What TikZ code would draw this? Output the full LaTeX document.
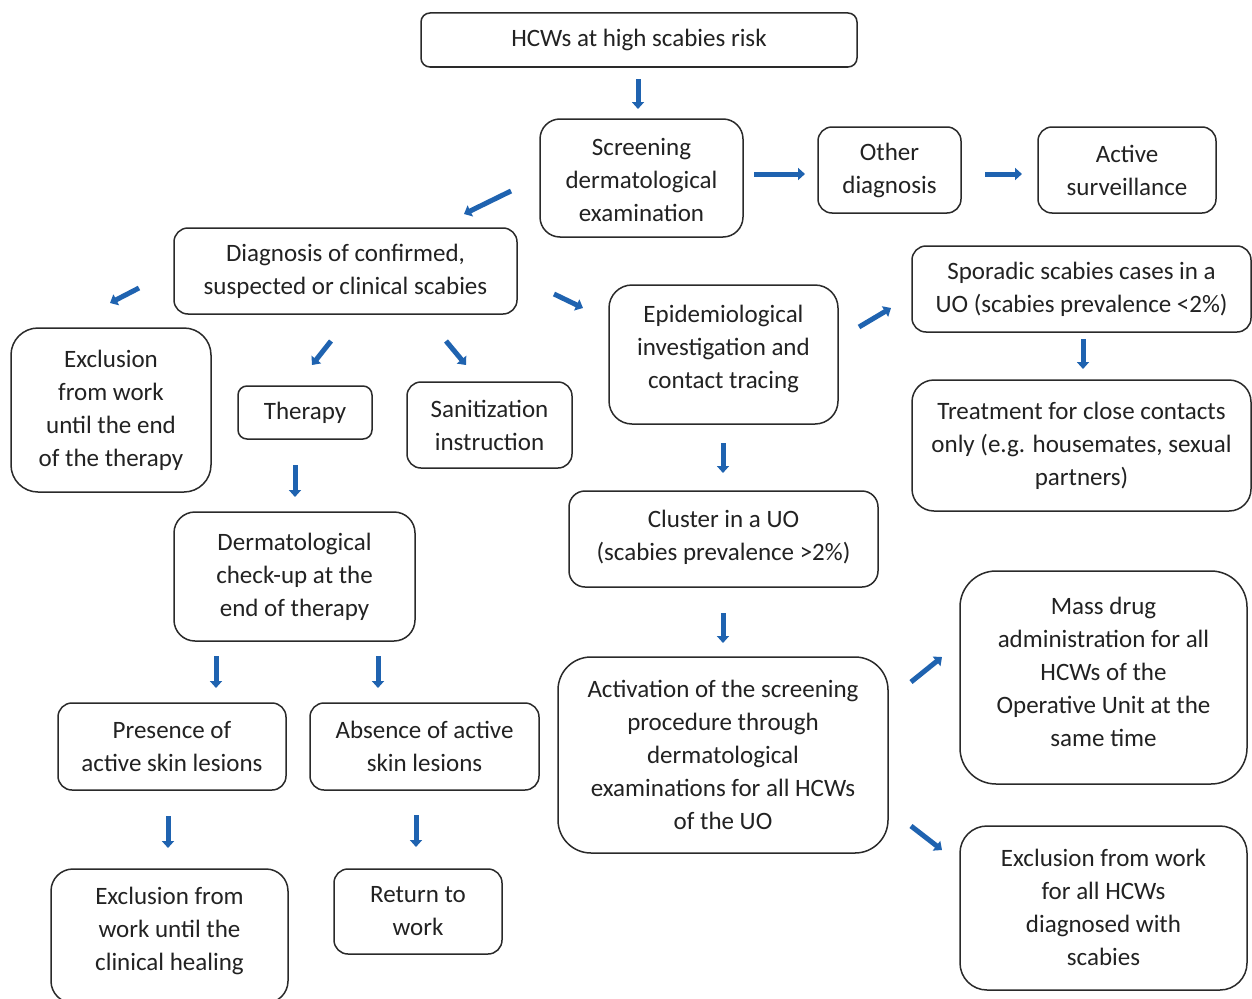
\documentclass[tikz,border=0pt]{standalone}
\usepackage{fontspec}
\setmainfont{Carlito}
\usetikzlibrary{arrows.meta}
\definecolor{arrblue}{HTML}{1F63B0}
\definecolor{boxline}{HTML}{2A2A2A}
\definecolor{txtcol}{HTML}{222222}
\tikzset{
  box/.style={draw=boxline, line width=1.5pt, align=center, inner sep=0pt, text=txtcol,
    font=\fontsize{25pt}{33pt}\selectfont},
  txt/.style={align=center, inner sep=0pt, text=txtcol, font=\fontsize{25pt}{33pt}\selectfont},
  arr/.style={draw=arrblue, line width=5pt, -{Triangle[width=12pt,length=7pt]}},
}
\begin{document}
\begin{tikzpicture}[x=1pt,y=-1pt]
\useasboundingbox (0,0) rectangle (1252,998);
\fill[white] (0,0) rectangle (1252,998);

% boxes
\node[box, minimum width=436pt, minimum height=54pt, rounded corners=9pt] (hcw) at (639,40) {HCWs at high scabies risk};
\node[box, minimum width=203pt, minimum height=118pt, rounded corners=20pt] (scr) at (641.5,178) {};
\node[txt] (scrt) at (641.5,180) {Screening\\dermatological\\examination};
\node[box, minimum width=143pt, minimum height=86pt, rounded corners=14pt] (oth) at (889.5,170) {Other\\diagnosis};
\node[box, minimum width=178pt, minimum height=86pt, rounded corners=14pt] (act) at (1127,170) {Active\\surveillance};
\node[box, minimum width=343pt, minimum height=86pt, rounded corners=14pt] (dia) at (345.5,271) {Diagnosis of confirmed,\\suspected or clinical scabies};
\node[box, minimum width=200pt, minimum height=164pt, rounded corners=27pt] (exc) at (111,410) {Exclusion\\from work\\until the end\\of the therapy};
\node[box, minimum width=134pt, minimum height=53pt, rounded corners=9pt] (the) at (305,412.5) {Therapy};
\node[box, minimum width=165pt, minimum height=86pt, rounded corners=14pt] (san) at (489.5,425) {Sanitization\\instruction};
\node[box, minimum width=229pt, minimum height=139pt, rounded corners=23pt] (epi) at (723.5,354.5) {};
\node[txt] (epit) at (723.5,349) {Epidemiological\\investigation and\\contact tracing};
\node[box, minimum width=339pt, minimum height=86pt, rounded corners=14pt] (spo) at (1081.5,289) {Sporadic scabies cases in a\\UO (scabies prevalence <2\%)};
\node[box, minimum width=339pt, minimum height=131pt, rounded corners=22pt] (tre) at (1081.5,445.5) {Treatment for close contacts\\only (e.g. housemates, sexual\\partners)};
\node[box, minimum width=241pt, minimum height=129pt, rounded corners=21pt] (der) at (294.5,576.5) {Dermatological\\check-up at the\\end of therapy};
\node[box, minimum width=309pt, minimum height=96pt, rounded corners=16pt] (clu) at (723.5,539) {};
\node[txt] (clut) at (723.5,537) {Cluster in a UO\\(scabies prevalence >2\%)};
\node[box, minimum width=228pt, minimum height=87pt, rounded corners=14pt] (pre) at (172,746.5) {Presence of\\active skin lesions};
\node[box, minimum width=229pt, minimum height=87pt, rounded corners=14pt] (abs) at (424.5,746.5) {Absence of active\\skin lesions};
\node[box, minimum width=330pt, minimum height=196pt, rounded corners=33pt] (acv) at (723,755) {Activation of the screening\\procedure through\\dermatological\\examinations for all HCWs\\of the UO};
\node[box, minimum width=287pt, minimum height=213pt, rounded corners=36pt] (mas) at (1103.5,677.5) {};
\node[txt] (mast) at (1103.5,672) {Mass drug\\administration for all\\HCWs of the\\Operative Unit at the\\same time};
\node[box, minimum width=287pt, minimum height=164pt, rounded corners=27pt] (exa) at (1103.5,908) {};
\node[txt] (exat) at (1103.5,907) {Exclusion from work\\for all HCWs\\diagnosed with\\scabies};
\node[box, minimum width=237pt, minimum height=134pt, rounded corners=22pt] (exh) at (169.5,936) {};
\node[txt] (exht) at (169.5,931) {Exclusion from\\work until the\\clinical healing};
\node[box, minimum width=168pt, minimum height=85pt, rounded corners=14pt] (ret) at (418,911.5) {Return to\\work};

% arrows (free-standing)
\coordinate (a1s) at (638,79);   \coordinate (a1e) at (638,109);
\coordinate (a2s) at (511,191);  \coordinate (a2e) at (464,214);
\coordinate (a3s) at (754,174);  \coordinate (a3e) at (805,174);
\coordinate (a4s) at (985,174);  \coordinate (a4e) at (1022,174);
\coordinate (a5s) at (139,288);  \coordinate (a5e) at (110,303);
\coordinate (a6s) at (331,341);  \coordinate (a6e) at (312,365);
\coordinate (a7s) at (446,341);  \coordinate (a7e) at (466,365);
\coordinate (a8s) at (554,294);  \coordinate (a8e) at (583,308);
\coordinate (a9s) at (859,327);  \coordinate (a9e) at (891,308);
\coordinate (a10s) at (1083,339); \coordinate (a10e) at (1083,369);
\coordinate (a11s) at (723,443); \coordinate (a11e) at (723,473);
\coordinate (a12s) at (295,465); \coordinate (a12e) at (295,497);
\coordinate (a13s) at (723,613); \coordinate (a13e) at (723,643);
\coordinate (a14s) at (216,656); \coordinate (a14e) at (216,688);
\coordinate (a15s) at (378,656); \coordinate (a15e) at (378,688);
\coordinate (a16s) at (911,682); \coordinate (a16e) at (942,657);
\coordinate (a17s) at (911,826); \coordinate (a17e) at (942,850);
\coordinate (a18s) at (168,816); \coordinate (a18e) at (168,848);
\coordinate (a19s) at (416,815); \coordinate (a19e) at (416,847);
\foreach \i in {1,...,19} {\draw[arr] (a\i s) -- (a\i e);}
\end{tikzpicture}
\end{document}
